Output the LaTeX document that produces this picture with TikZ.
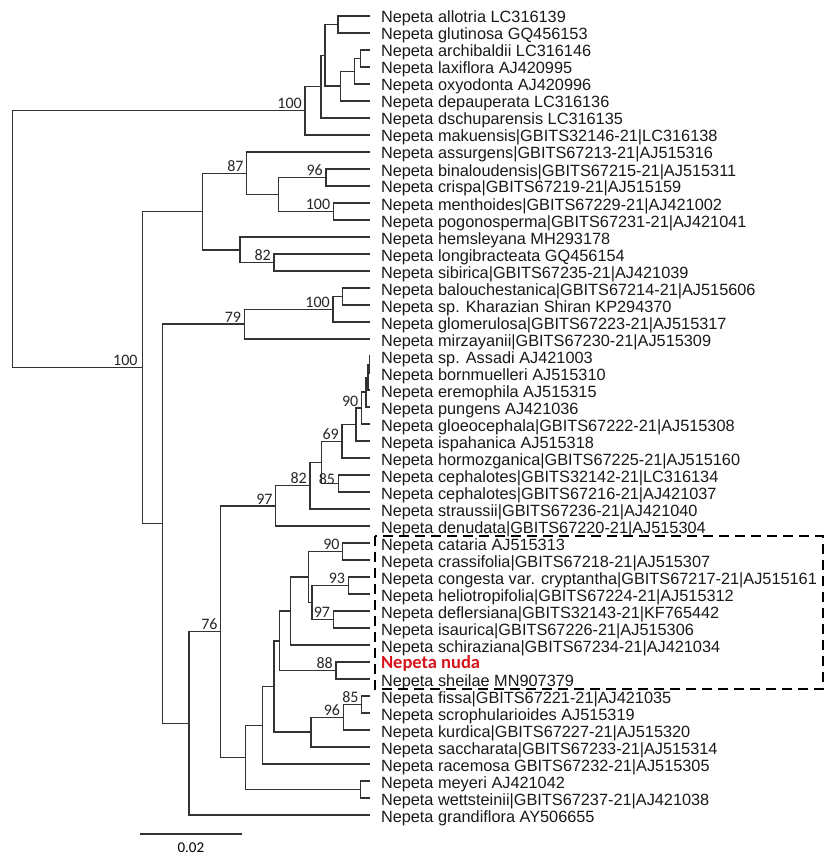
\documentclass[tikz,border=0pt]{standalone}
\usepackage{fontspec}
\setmainfont{Liberation Sans}
\newfontfamily\calib{Carlito}
\usetikzlibrary{calc}
\definecolor{nred}{RGB}{214,20,28}
\tikzstyle{leaf} = [anchor=west,inner xsep=11pt,inner ysep=0pt,outer sep=0pt,text height=14pt,text depth=0pt,font=\fontsize{16.3}{17}\selectfont,text=black!90]
\tikzstyle{bs} = [anchor=south east,inner xsep=3pt,inner ysep=1.5pt,font=\calib\fontsize{16}{16}\selectfont,text=black!85]
\tikzstyle{br} = [draw=black!80,line width=1.4pt]
\tikzstyle{dbox} = [draw=black,line width=2pt,dash pattern=on 10pt off 6pt]

\begin{document}
\begin{tikzpicture}[x=1pt,y=-1pt]
  \useasboundingbox (0,0) rectangle (829,861);
  % taxa
  \node[leaf](allo) at (370,16) {Nepeta allotria LC316139};
  \node[leaf](glut) at (370,33) {Nepeta glutinosa GQ456153};
  \node[leaf](arch) at (370,50) {Nepeta archibaldii LC316146};
  \node[leaf](laxi) at (370,67) {Nepeta laxiflora AJ420995};
  \node[leaf](oxyo) at (370,84) {Nepeta oxyodonta AJ420996};
  \node[leaf](depa) at (370,101) {Nepeta depauperata LC316136};
  \node[leaf](dsch) at (370,118) {Nepeta dschuparensis LC316135};
  \node[leaf](maku) at (370,135) {Nepeta makuensis|GBITS32146-21|LC316138};
  \node[leaf](assu) at (370,152) {Nepeta assurgens|GBITS67213-21|AJ515316};
  \node[leaf](bina) at (370,169) {Nepeta binaloudensis|GBITS67215-21|AJ515311};
  \node[leaf](cris) at (370,186) {Nepeta crispa|GBITS67219-21|AJ515159};
  \node[leaf](ment) at (370,203) {Nepeta menthoides|GBITS67229-21|AJ421002};
  \node[leaf](pogo) at (370,220) {Nepeta pogonosperma|GBITS67231-21|AJ421041};
  \node[leaf](hems) at (370,237) {Nepeta hemsleyana MH293178};
  \node[leaf](long) at (370,254) {Nepeta longibracteata GQ456154};
  \node[leaf](sibi) at (370,271) {Nepeta sibirica|GBITS67235-21|AJ421039};
  \node[leaf](balo) at (370,288) {Nepeta balouchestanica|GBITS67214-21|AJ515606};
  \node[leaf](khar) at (370,305) {Nepeta sp. Kharazian Shiran KP294370};
  \node[leaf](glom) at (370,322) {Nepeta glomerulosa|GBITS67223-21|AJ515317};
  \node[leaf](mirz) at (370,339) {Nepeta mirzayanii|GBITS67230-21|AJ515309};
  \node[leaf](assa) at (370,356) {Nepeta sp. Assadi AJ421003};
  \node[leaf](born) at (370,373) {Nepeta bornmuelleri AJ515310};
  \node[leaf](erem) at (370,390) {Nepeta eremophila AJ515315};
  \node[leaf](pung) at (370,407) {Nepeta pungens AJ421036};
  \node[leaf](gloe) at (370,424) {Nepeta gloeocephala|GBITS67222-21|AJ515308};
  \node[leaf](ispa) at (370,441) {Nepeta ispahanica AJ515318};
  \node[leaf](horm) at (370,458) {Nepeta hormozganica|GBITS67225-21|AJ515160};
  \node[leaf](cepa) at (370,475) {Nepeta cephalotes|GBITS32142-21|LC316134};
  \node[leaf](cepb) at (370,492) {Nepeta cephalotes|GBITS67216-21|AJ421037};
  \node[leaf](stra) at (370,509) {Nepeta straussii|GBITS67236-21|AJ421040};
  \node[leaf](denu) at (370,526) {Nepeta denudata|GBITS67220-21|AJ515304};
  \node[leaf](cata) at (370,543) {Nepeta cataria AJ515313};
  \node[leaf](cras) at (370,560) {Nepeta crassifolia|GBITS67218-21|AJ515307};
  \node[leaf](cong) at (370,577) {Nepeta congesta var. cryptantha|GBITS67217-21|AJ515161};
  \node[leaf](heli) at (370,594) {Nepeta heliotropifolia|GBITS67224-21|AJ515312};
  \node[leaf](defl) at (370,611) {Nepeta deflersiana|GBITS32143-21|KF765442};
  \node[leaf](isau) at (370,628) {Nepeta isaurica|GBITS67226-21|AJ515306};
  \node[leaf](schi) at (370,645) {Nepeta schiraziana|GBITS67234-21|AJ421034};
  \node[leaf,text height=12pt,font=\calib\bfseries\fontsize{18.5}{20}\selectfont,text=nred](nuda) at (370,662) {Nepeta nuda};
  \node[leaf](shei) at (370,679) {Nepeta sheilae MN907379};
  \node[leaf](fiss) at (370,696) {Nepeta fissa|GBITS67221-21|AJ421035};
  \node[leaf](scro) at (370,713) {Nepeta scrophularioides AJ515319};
  \node[leaf](kurd) at (370,730) {Nepeta kurdica|GBITS67227-21|AJ515320};
  \node[leaf](sacc) at (370,747) {Nepeta saccharata|GBITS67233-21|AJ515314};
  \node[leaf](race) at (370,764) {Nepeta racemosa GBITS67232-21|AJ515305};
  \node[leaf](meye) at (370,781) {Nepeta meyeri AJ421042};
  \node[leaf](wett) at (370,798) {Nepeta wettsteinii|GBITS67237-21|AJ421038};
  \node[leaf](gran) at (370,815) {Nepeta grandiflora AY506655};
  % internal nodes
  \coordinate (root) at (12.3,239.2);
  \coordinate (a) at (305,110.8);   \coordinate (b) at (321,86.7);
  \coordinate (c) at (325,55.3);    \coordinate (d) at (338,24.5);
  \coordinate (e) at (340.5,86.1);  \coordinate (f) at (354.5,71.3);
  \coordinate (g) at (360.5,58.5);
  \coordinate (h) at (142.7,367.6); \coordinate (i) at (202.3,211.5);
  \coordinate (j) at (246.7,173.3); \coordinate (l) at (278.3,194.5);
  \coordinate (m) at (326,177.5);   \coordinate (n) at (333.3,211.5);
  \coordinate (k) at (240,249.8);   \coordinate (o) at (274,262.5);
  \coordinate (p) at (162.7,523.7); \coordinate (q) at (244.3,324.1);
  \coordinate (s) at (333,309.3);   \coordinate (t) at (342.3,296.5);
  \coordinate (r) at (189,723.3);   \coordinate (u) at (220.7,631.6);
  \coordinate (v) at (275.7,505.9); \coordinate (x) at (310,485.7);
  \coordinate (y) at (321.7,462.4); \coordinate (z) at (342,441.3);
  \coordinate (aa) at (338.3,483.5);
  \coordinate (ac) at (356,424.5);  \coordinate (ad) at (361.5,408);
  \coordinate (ae) at (366,392.1);  \coordinate (af) at (368,377.3);
  \coordinate (ag) at (369.3,364.5);
  \coordinate (bn) at (245.7,757.3); \coordinate (bm) at (262.7,725.2);
  \coordinate (bj) at (274,686.4);   \coordinate (bi) at (279.3,640.8);
  \coordinate (bg) at (290.7,611);   \coordinate (bb) at (308.3,577);
  \coordinate (ba) at (342.7,551.5); \coordinate (be) at (312,602.5);
  \coordinate (bd) at (348.3,585.5); \coordinate (bf) at (333.3,619.5);
  \coordinate (bh) at (336,670.5);   \coordinate (bk) at (311,732.1);
  \coordinate (bl) at (343.3,717.3); \coordinate (bp) at (361.7,704.5);
  \coordinate (bo) at (360.7,789.5);
  % branches
  \draw[br] (root) |- (a) (root) |- (h);
  \draw[br] (a) |- (b) (a) |- (maku.west);
  \draw[br] (b) |- (c) (b) |- (dsch.west);
  \draw[br] (c) |- (d) (c) |- (e);
  \draw[br] (d) |- (allo.west) (d) |- (glut.west);
  \draw[br] (e) |- (f) (e) |- (depa.west);
  \draw[br] (f) |- (g) (f) |- (oxyo.west);
  \draw[br] (g) |- (arch.west) (g) |- (laxi.west);
  \draw[br] (h) |- (i) (h) |- (p);
  \draw[br] (i) |- (j) (i) |- (k);
  \draw[br] (j) |- (assu.west) (j) |- (l);
  \draw[br] (l) |- (m) (l) |- (n);
  \draw[br] (m) |- (bina.west) (m) |- (cris.west);
  \draw[br] (n) |- (ment.west) (n) |- (pogo.west);
  \draw[br] (k) |- (hems.west) (k) |- (o);
  \draw[br] (o) |- (long.west) (o) |- (sibi.west);
  \draw[br] (p) |- (q) (p) |- (r);
  \draw[br] (q) |- (s) (q) |- (mirz.west);
  \draw[br] (s) |- (t) (s) |- (glom.west);
  \draw[br] (t) |- (balo.west) (t) |- (khar.west);
  \draw[br] (r) |- (u) (r) |- (gran.west);
  \draw[br] (u) |- (v) (u) |- (bn);
  \draw[br] (v) |- (x) (v) |- (denu.west);
  \draw[br] (x) |- (y) (x) |- (stra.west);
  \draw[br] (y) |- (z) (y) |- (aa);
  \draw[br] (z) |- (ac) (z) |- (horm.west);
  \draw[br] (ac) |- (ad) (ac) |- (ispa.west);
  \draw[br] (ad) |- (ae) (ad) |- (gloe.west);
  \draw[br] (ae) |- (af) (ae) |- (pung.west);
  \draw[br] (af) |- (ag) (af) |- (erem.west);
  \draw[br] (ag) |- (assa.west) (ag) |- (born.west);
  \draw[br] (aa) |- (cepa.west) (aa) |- (cepb.west);
  \draw[br] (bn) |- (bm) (bn) |- (bo);
  \draw[br] (bm) |- (bj) (bm) |- (race.west);
  \draw[br] (bj) |- (bi) (bj) |- (bk);
  \draw[br] (bi) |- (bg) (bi) |- (bh);
  \draw[br] (bg) |- (bb) (bg) |- (schi.west);
  \draw[br] (bb) |- (ba) (bb) |- (be);
  \draw[br] (ba) |- (cata.west) (ba) |- (cras.west);
  \draw[br] (be) |- (bd) (be) |- (bf);
  \draw[br] (bd) |- (cong.west) (bd) |- (heli.west);
  \draw[br] (bf) |- (defl.west) (bf) |- (isau.west);
  \draw[br] (bh) |- (nuda.west) (bh) |- (shei.west);
  \draw[br] (bk) |- (bl) (bk) |- (sacc.west);
  \draw[br] (bl) |- (bp) (bl) |- (kurd.west);
  \draw[br] (bp) |- (fiss.west) (bp) |- (scro.west);
  \draw[br] (bo) |- (meye.west) (bo) |- (wett.west);
  % support values
  \node[bs] at (a) {100};
  \node[bs] at (j) {87};
  \node[bs] at (m) {96};
  \node[bs] at (n) {100};
  \node[bs] at (o) {82};
  \node[bs,xshift=-2pt] at (h) {100};
  \node[bs] at (q) {79};
  \node[bs] at (s) {100};
  \node[bs] at (u) {76};
  \node[bs] at (v) {97};
  \node[bs] at (x) {82};
  \node[bs] at (z) {69};
  \node[bs,yshift=-2.5pt] at (aa) {85};
  \node[bs] at (ad) {90};
  \node[bs] at (ba) {90};
  \node[bs] at (bd) {93};
  \node[bs] at (bf) {97};
  \node[bs] at (bh) {88};
  \node[bs] at (bl) {96};
  \node[bs] at (bp) {85};
  % clade box
  \draw[dbox] ($(cata.west)+(5,-7)$) rectangle ($(shei.west)+(453,10)$);
  % scale bar
  \coordinate (sa) at (140,834);
  \coordinate (sb) at (241.7,834);
  \draw[br] (sa) -- (sb);
  \node[anchor=north,inner sep=0pt,font=\calib\fontsize{15}{15}\selectfont](sl) at ($(sa)!.5!(sb)+(0,8.5)$) {0.02};
\end{tikzpicture}
\end{document}
